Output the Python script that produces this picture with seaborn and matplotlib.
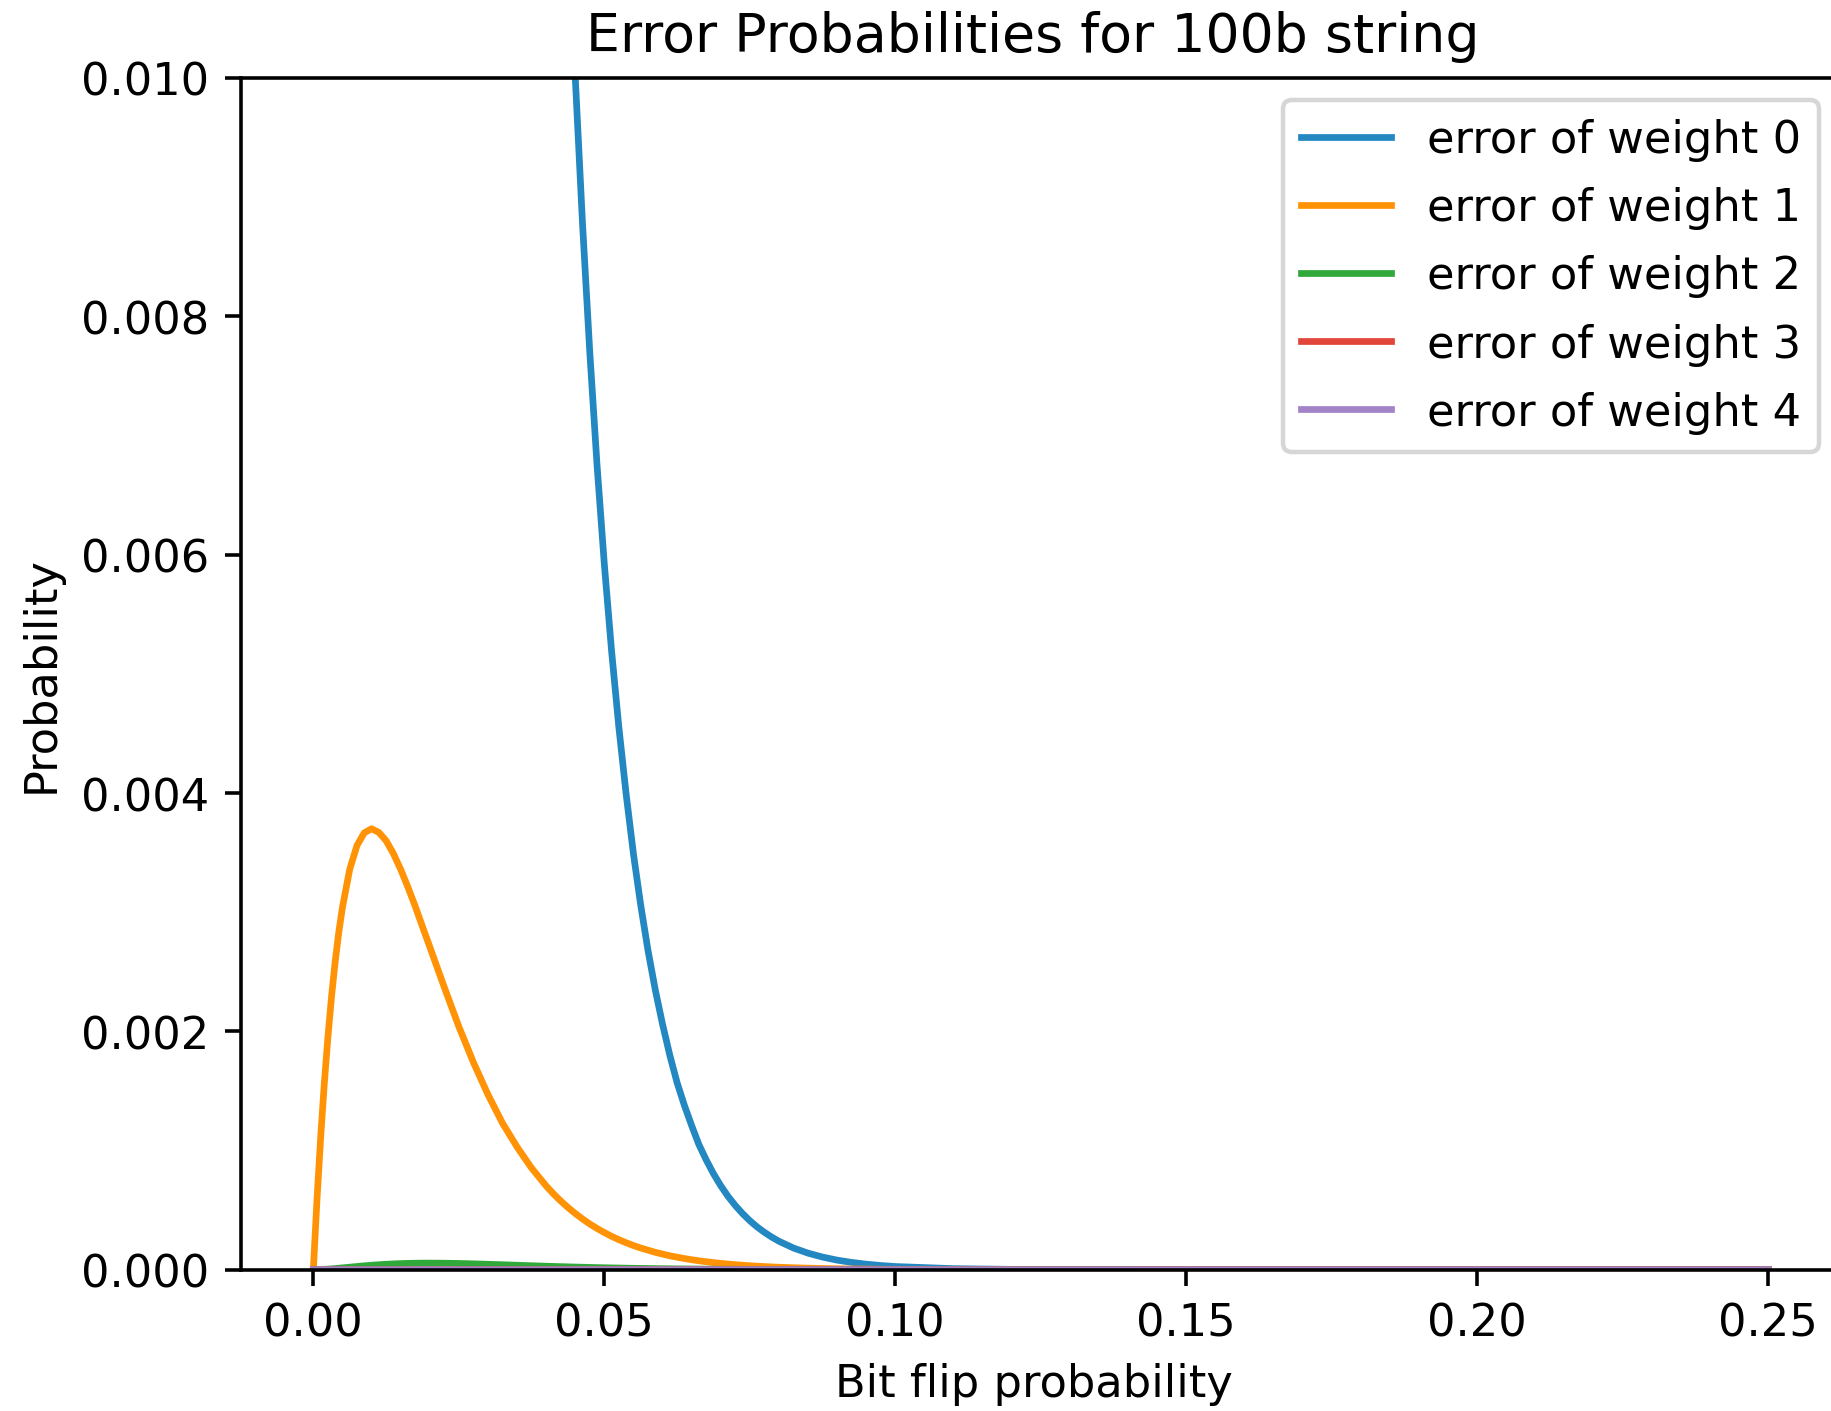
import pandas as pd
import seaborn as sns
import matplotlib.pyplot as plt

# Bit flip probability grid (finer where the curves bend or fall steeply)
bit_flip = [0, 0.000625, 0.00125, 0.001875, 0.0025, 0.003125, 0.00375, 0.004375, 0.005,
            0.00625, 0.0075, 0.00875, 0.01, 0.01125, 0.0125, 0.01375, 0.015, 0.01625, 0.0175, 0.01875, 0.02,
            0.0225, 0.025, 0.0275, 0.03, 0.0325, 0.035, 0.0375, 0.04,
            0.04125, 0.0425, 0.04375, 0.045, 0.04625, 0.0475, 0.04875, 0.05,
            0.05125, 0.0525, 0.05375, 0.055, 0.05625, 0.0575, 0.05875, 0.06,
            0.06125, 0.0625, 0.06375, 0.065, 0.06625, 0.0675, 0.06875, 0.07,
            0.07125, 0.0725, 0.07375, 0.075, 0.07625, 0.0775, 0.07875, 0.08,
            0.0825, 0.085, 0.0875, 0.09, 0.0925, 0.095, 0.0975, 0.1,
            0.11, 0.12, 0.13, 0.15, 0.2, 0.25]

# Probability of an error of a given weight
weight0 = [1.0, 0.9394, 0.8824, 0.8289, 0.7786, 0.7313, 0.6868, 0.6450, 0.6058,
           0.5342, 0.4711, 0.4153, 0.3660, 0.3226, 0.2843, 0.2505, 0.2206, 0.1943, 0.1711, 0.1507, 0.1326,
           0.1027, 0.0795, 0.0615, 0.0476, 0.0367, 0.0284, 0.0219, 0.0169,
           0.01481, 0.01300, 0.01141, 0.01001, 0.00878, 0.00770, 0.00675, 0.00592,
           0.00519, 0.00455, 0.00399, 0.00349, 0.00306, 0.00268, 0.00235, 0.00206,
           0.00180, 0.00157, 0.00138, 0.00121, 0.00105, 0.000922, 0.000806, 0.000705,
           0.000616, 0.000539, 0.000471, 0.000411, 0.000359, 0.000314, 0.000274, 0.000239,
           0.000182, 0.000139, 0.000106, 0.0000804, 0.0000610, 0.0000463, 0.0000351, 0.0000266,
           0.0000087, 0.0000028, 0.0000009, 0.0000001, 0.0, 0.0]

weight1 = [0.0, 0.000588, 0.001104, 0.001557, 0.00195, 0.002292, 0.002585, 0.002834, 0.00304,
           0.00336, 0.00356, 0.003666, 0.00370, 0.00367, 0.00360, 0.003492, 0.00336, 0.00321, 0.00305, 0.002879, 0.00271,
           0.00237, 0.00204, 0.00174, 0.00147, 0.00123, 0.00103, 0.000853, 0.000703,
           0.000637, 0.000577, 0.000522, 0.000472, 0.000426, 0.000384, 0.000346, 0.000312,
           0.000280, 0.000252, 0.000226, 0.000203, 0.000182, 0.000164, 0.000146, 0.000131,
           0.000117, 0.000105, 0.0000938, 0.0000838, 0.0000748, 0.0000668, 0.0000595, 0.0000531,
           0.0000473, 0.0000421, 0.0000375, 0.0000334, 0.0000296, 0.0000264, 0.0000234, 0.0000208,
           0.0000164, 0.0000129, 0.0000102, 0.0000079, 0.0000062, 0.0000049, 0.0000038, 0.0000030,
           0.0000011, 0.0000004, 0.0000001, 0.0, 0.0, 0.0]

weight2 = [0.0, 0.0000004, 0.0000014, 0.0000029, 0.0000049, 0.0000072, 0.0000097, 0.0000125, 0.0000153,
           0.0000211, 0.0000269, 0.0000324, 0.0000373, 0.0000418, 0.0000455, 0.0000487, 0.0000512, 0.0000530, 0.0000543, 0.0000550, 0.0000552,
           0.0000544, 0.0000523, 0.0000492, 0.0000455, 0.0000415, 0.0000373, 0.0000332, 0.0000293,
           0.0000274, 0.0000256, 0.0000239, 0.0000222, 0.0000207, 0.0000191, 0.0000177, 0.0000164,
           0.0000151, 0.0000140, 0.0000128, 0.0000118, 0.0000108, 0.0000100, 0.0000091, 0.0000084,
           0.0000076, 0.0000070, 0.0000064, 0.0000058, 0.0000053, 0.0000048, 0.0000044, 0.0000040,
           0.0000036, 0.0000033, 0.0000030, 0.0000027, 0.0000024, 0.0000022, 0.0000020, 0.0000018,
           0.0000015, 0.0000012, 0.0000010, 0.0000008, 0.0000006, 0.0000005, 0.0000004, 0.0000003,
           0.0000001, 0.0, 0.0, 0.0, 0.0, 0.0]

weight3 = [0.0, 0.0, 0.0, 0.0, 0.0, 0.0, 0.0, 0.0, 0.0000001,
           0.0000001, 0.0000002, 0.0000003, 0.0000004, 0.0000005, 0.0000006, 0.0000007, 0.0000008, 0.0000009, 0.0000010, 0.0000011, 0.0000011,
           0.0000013, 0.0000013, 0.0000014, 0.0000014, 0.0000014, 0.0000014, 0.0000013, 0.0000012,
           0.0000012, 0.0000011, 0.0000011, 0.0000010, 0.0000010, 0.0000010, 0.0000009, 0.0000009,
           0.0000008, 0.0000008, 0.0000007, 0.0000007, 0.0000006, 0.0000006, 0.0000006, 0.0000005,
           0.0000005, 0.0000005, 0.0000004, 0.0000004, 0.0000004, 0.0000003, 0.0000003, 0.0000003,
           0.0000003, 0.0000003, 0.0000002, 0.0000002, 0.0000002, 0.0000002, 0.0000002, 0.0000002,
           0.0000001, 0.0000001, 0.0000001, 0.0000001, 0.0, 0.0, 0.0, 0.0,
           0.0, 0.0, 0.0, 0.0, 0.0, 0.0]

weight4 = [0.0, 0.0, 0.0, 0.0, 0.0, 0.0, 0.0, 0.0, 0.0,
           0.0, 0.0, 0.0, 0.0, 0.0, 0.0, 0.0, 0.0, 0.0, 0.0, 0.0, 0.0,
           0.0, 0.0, 0.0, 0.00000004, 0.00000004, 0.00000005, 0.00000005, 0.00000005,
           0.00000005, 0.00000005, 0.00000005, 0.00000005, 0.00000005, 0.00000005, 0.00000005, 0.00000005,
           0.00000004, 0.00000004, 0.00000004, 0.00000004, 0.00000004, 0.00000004, 0.00000003, 0.00000003,
           0.00000003, 0.00000003, 0.00000003, 0.00000003, 0.00000002, 0.00000002, 0.00000002, 0.00000002,
           0.00000002, 0.00000002, 0.00000001, 0.00000001, 0.00000001, 0.00000001, 0.00000001, 0.00000001,
           0.0, 0.0, 0.0, 0.0, 0.0, 0.0, 0.0, 0.0,
           0.0, 0.0, 0.0, 0.0, 0.0, 0.0]

series = [weight0, weight1, weight2, weight3, weight4]
colors = ['#2387c1', '#ff9305', '#30a83a', '#e2453a', '#a283c8']

# Set up the figure (axes placed to match the cropped original)
dpi = 322.5
fig = plt.figure(figsize=(1831 / dpi, 1412 / dpi), dpi=dpi)
ax = fig.add_axes([240.6 / 1831, 141.3 / 1412, 1600.4 / 1831, 1191.7 / 1412])

for w, vals in enumerate(series):
    df = pd.DataFrame({'p': bit_flip, 'prob': vals})
    sns.lineplot(data=df, x='p', y='prob', label=f'error of weight {w}', ax=ax,
                 color=colors[w], linewidth=1.5)

ax.set_ylim(0, 0.01)
ax.set_title('Error Probabilities for 100b string', fontsize=12, x=0.495)
ax.set_xlabel('Bit flip probability', x=0.4956)
ax.set_ylabel('Probability')
ax.legend(loc='upper right', labelspacing=0.56)

fig.savefig('out.png', dpi=dpi)
